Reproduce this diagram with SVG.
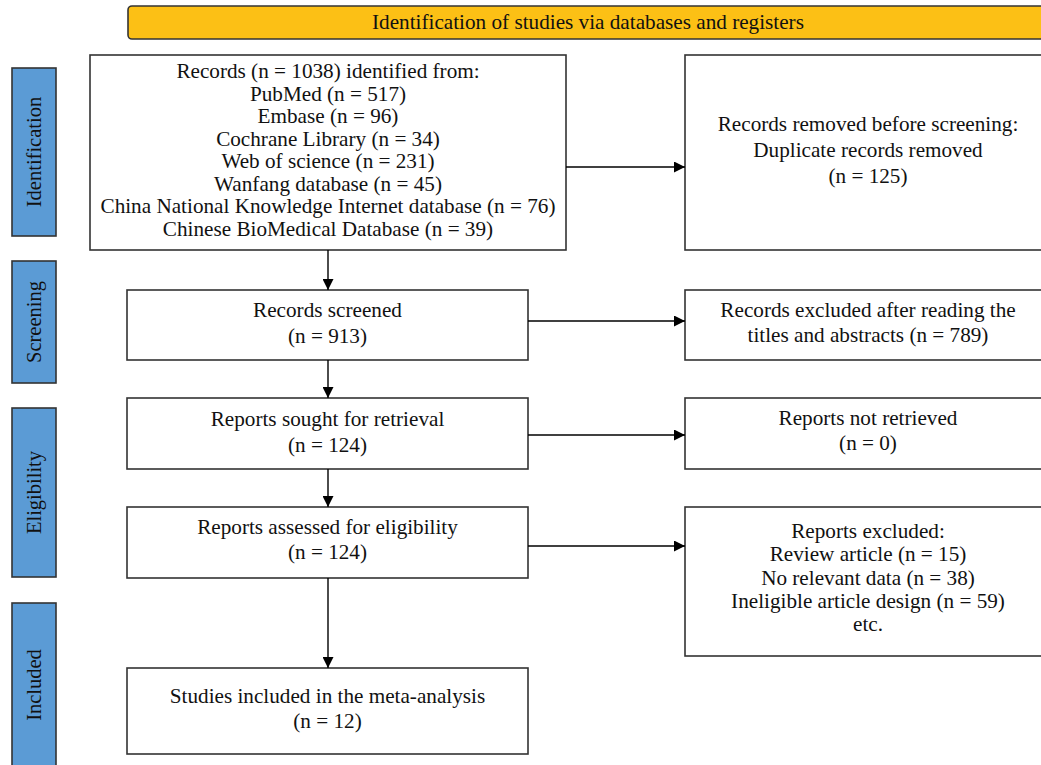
<svg xmlns="http://www.w3.org/2000/svg" width="1041" height="765" viewBox="0 0 1041 765">
<defs>
<marker id="ah" markerWidth="11" markerHeight="11" refX="11" refY="5.5" orient="auto" markerUnits="userSpaceOnUse">
<path d="M0,0 L11,5.5 L0,11 Z" fill="#000"/>
</marker>
<style>
.box{fill:#fff;stroke:#333;stroke-width:1.6}
.side{fill:#5B9BD5;stroke:#333;stroke-width:1.6}
.title{fill:#FCC015;stroke:#333;stroke-width:1.6}
text{font-family:"Liberation Serif","Times New Roman",serif;font-size:21.2px;fill:#111;text-anchor:middle}
.st{font-size:20.5px}
.con{stroke:#000;stroke-width:1.4;fill:none;marker-end:url(#ah)}
</style>
</defs>
<g id="title">
<rect class="title" x="128" y="6" width="930" height="33" rx="4"/>
<text x="588" y="28.5">Identification of studies via databases and registers</text>
</g>
<g id="side-identification">
<rect class="side" x="12" y="68" width="44" height="168"/>
<text class="st" transform="translate(41,152) rotate(-90)">Identification</text>
</g>
<g id="side-screening">
<rect class="side" x="12" y="261" width="44" height="122"/>
<text class="st" transform="translate(41,322) rotate(-90)">Screening</text>
</g>
<g id="side-eligibility">
<rect class="side" x="12" y="408" width="44" height="169"/>
<text class="st" transform="translate(41,492.5) rotate(-90)">Eligibility</text>
</g>
<g id="side-included">
<rect class="side" x="12" y="603" width="44" height="170"/>
<text class="st" transform="translate(41,685) rotate(-90)">Included</text>
</g>
<g id="identified">
<rect class="box" x="90" y="55" width="476" height="195"/>
<text x="328" y="78">Records (n = 1038) identified from:</text>
<text x="328" y="100.5">PubMed (n = 517)</text>
<text x="328" y="123">Embase (n = 96)</text>
<text x="328" y="145.5">Cochrane Library (n = 34)</text>
<text x="328" y="168">Web of science (n = 231)</text>
<text x="328" y="190.5">Wanfang database (n = 45)</text>
<text x="328" y="213">China National Knowledge Internet database (n = 76)</text>
<text x="328" y="235.5">Chinese BioMedical Database (n = 39)</text>
</g>
<g id="removed">
<rect class="box" x="685" y="55" width="380" height="195"/>
<text x="868" y="131">Records removed before screening:</text>
<text x="868" y="157">Duplicate records removed</text>
<text x="868" y="183">(n = 125)</text>
</g>
<g id="screened">
<rect class="box" x="127" y="290" width="401" height="70"/>
<text x="327.5" y="317">Records screened</text>
<text x="327.5" y="343">(n = 913)</text>
</g>
<g id="excluded1">
<rect class="box" x="685" y="290" width="380" height="70"/>
<text x="868" y="317">Records excluded after reading the</text>
<text x="868" y="342">titles and abstracts (n = 789)</text>
</g>
<g id="sought">
<rect class="box" x="127" y="398" width="401" height="71"/>
<text x="327.5" y="426">Reports sought for retrieval</text>
<text x="327.5" y="452">(n = 124)</text>
</g>
<g id="notretrieved">
<rect class="box" x="685" y="398" width="380" height="71"/>
<text x="868" y="425">Reports not retrieved</text>
<text x="868" y="450">(n = 0)</text>
</g>
<g id="assessed">
<rect class="box" x="127" y="507" width="401" height="71"/>
<text x="327.5" y="534">Reports assessed for eligibility</text>
<text x="327.5" y="559">(n = 124)</text>
</g>
<g id="excluded2">
<rect class="box" x="685" y="507" width="380" height="149"/>
<text x="868" y="538">Reports excluded:</text>
<text x="868" y="561">Review article (n = 15)</text>
<text x="868" y="584.5">No relevant data (n = 38)</text>
<text x="868" y="608">Ineligible article design (n = 59)</text>
<text x="868" y="631">etc.</text>
</g>
<g id="included">
<rect class="box" x="127" y="668" width="401" height="86"/>
<text x="327.5" y="703">Studies included in the meta-analysis</text>
<text x="327.5" y="728">(n = 12)</text>
</g>
<g id="connectors">
<path class="con" d="M328,250 V290"/>
<path class="con" d="M328,360 V398"/>
<path class="con" d="M328,469 V507"/>
<path class="con" d="M328,578 V668"/>
<path class="con" d="M566,167 H685"/>
<path class="con" d="M528,321 H685"/>
<path class="con" d="M528,435 H685"/>
<path class="con" d="M528,546 H685"/>
</g>
</svg>
